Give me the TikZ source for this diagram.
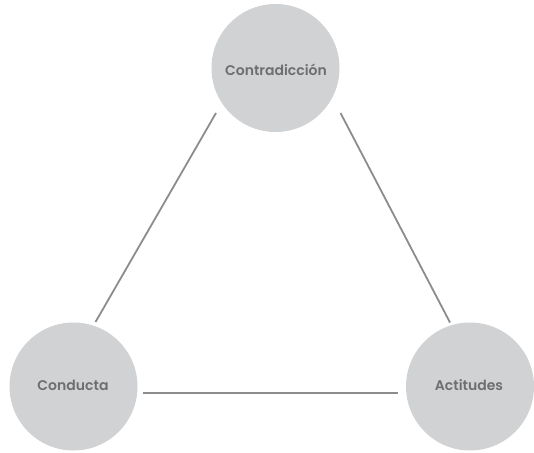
\documentclass[tikz,border=0pt]{standalone}
\usepackage{fontspec}
\setmainfont{Poppins}[BoldFont={Poppins SemiBold}]
\definecolor{circfill}{HTML}{D1D2D4}
\definecolor{linegray}{HTML}{8C8C8E}
\definecolor{textgray}{HTML}{6D6E70}
\begin{document}
\begin{tikzpicture}[x=1pt,y=-1pt,
  bubble/.style={circle,fill=circfill,minimum size=128pt,inner sep=0pt},
  lab/.style={text=textgray,inner sep=0pt,font=\fontsize{14}{16}\selectfont\bfseries},
  link/.style={draw=linegray,line width=1.8pt}]
\useasboundingbox (0,0) rectangle (534,452);
\node[bubble] (top) at (275.5,68) {};
\node[bubble] (left) at (73.5,386.5) {};
\node[bubble] (right) at (470,386.5) {};
\node[lab] (toplab) at (276,69.5) {Contradicción};
\node[lab] (leftlab) at (73,385.5) {Conducta};
\node[lab] (rightlab) at (469,385.5) {Actitudes};
\coordinate (a1) at (95.5,322);
\coordinate (a2) at (216,113);
\coordinate (b1) at (340.5,113);
\coordinate (b2) at (450,322.5);
\coordinate (c1) at (143,393);
\coordinate (c2) at (398,393);
\draw[link] (a1) -- (a2);
\draw[link] (b1) -- (b2);
\draw[link] (c1) -- (c2);
\end{tikzpicture}
\end{document}
